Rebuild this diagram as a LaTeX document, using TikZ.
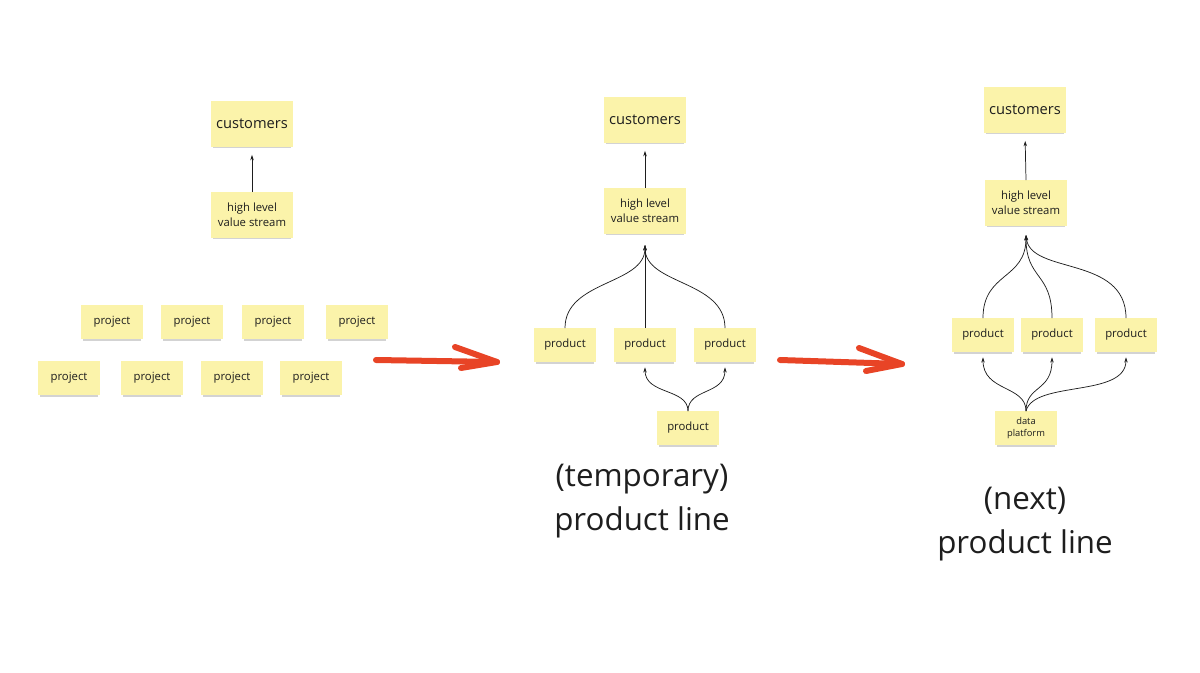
\documentclass[tikz,border=0pt]{standalone}
\usepackage{fontspec}
\setmainfont{Open Sans}
\usetikzlibrary{arrows.meta,shadows}
\definecolor{notefill}{RGB}{251,243,170}
\definecolor{penred}{RGB}{232,68,38}
\definecolor{inkgray}{RGB}{30,30,30}
\tikzset{
  note/.style={fill=notefill, inner sep=1pt, align=center,
    minimum width=46pt, minimum height=25pt,
    font=\fontsize{8.5}{11.5}\selectfont, text=inkgray,
    drop shadow={shadow xshift=0pt, shadow yshift=-2pt, shadow scale=0.96,
      opacity=0.35}},
  bignote/.style={note, minimum width=61.5pt, minimum height=34pt},
  link/.style={-{Stealth[length=4pt, width=2.6pt]}, line width=0.55pt, draw=inkgray},
  caption/.style={align=center, text=inkgray, font=\fontsize{23.5}{33}\selectfont},
  redarrow/.style={draw=penred, line width=4.5pt, line cap=round, line join=round}
}
\begin{document}
\begin{tikzpicture}[x=0.75pt, y=-0.75pt]
    \useasboundingbox (0,0) rectangle (1200,673);

    % Projects
    \node[bignote, font=\fontsize{11}{13}\selectfont] (cust1) at (252,124) {customers};
    \node[bignote] (vs1) at (252,215) {high level\\value stream};
    \draw[link, shorten >=6pt] (vs1.north) -- (cust1.south);
    \foreach \x [count=\i] in {112,192,273,357}
        \node[note] (projA\i) at (\x,322) {project};
    \foreach \x [count=\i] in {69,152,232,311}
        \node[note] (projB\i) at (\x,378) {project};

    % first red arrow
    \coordinate (r1s) at (376,360);
    \coordinate (r1e) at (497,362);
    \draw[redarrow] (r1s) -- (r1e);
    \draw[redarrow] (455,347) -- (r1e) -- (461,368);

    % Temporary product line
    \node[bignote, font=\fontsize{11}{13}\selectfont] (cust2) at (645,120) {customers};
    \node[bignote] (vs2) at (645,211) {high level\\value stream};
    \draw[link, shorten >=6pt] (vs2.north) -- (cust2.south);
    \coordinate (m2) at (645,245);
    \foreach \x [count=\i] in {565,645,725}
        \node[note] (prodA\i) at (\x,345) {product};
    \node[note] (prodA4) at (688,428) {product};
    \draw[link] (prodA1.north) .. controls (565,280) and (645,285) .. (m2);
    \draw[link] (prodA2.north) -- (m2);
    \draw[link] (prodA3.north) .. controls (725,280) and (645,285) .. (m2);
    \draw[link, shorten >=4pt] (prodA4.north) .. controls (688,388) and (645,395) .. (prodA2.south);
    \draw[link, shorten >=4pt] (prodA4.north) .. controls (688,388) and (725,395) .. (prodA3.south);
    \node[caption] (cap2) at (642,501) {(temporary)\\product line};

    % second red arrow
    \coordinate (r2s) at (780,360);
    \coordinate (r2e) at (902,364);
    \draw[redarrow] (r2s) -- (r2e);
    \draw[redarrow] (859,348) -- (r2e) -- (866,371);

    % Next product line
    \node[bignote, font=\fontsize{11}{13}\selectfont] (cust3) at (1025,110) {customers};
    \node[bignote] (vs3) at (1026,203) {high level\\value stream};
    \draw[link, shorten >=6pt] (vs3.north) -- (cust3.south);
    \coordinate (m3) at (1026,235);
    \foreach \x [count=\i] in {983,1052,1126}
        \node[note] (prodB\i) at (\x,335) {product};
    \node[note, font=\fontsize{7}{9.5}\selectfont] (data) at (1026,428) {data\\platform};
    \draw[link] (prodB1.north) .. controls (983,272) and (1026,280) .. (m3);
    \draw[link] (prodB2.north) .. controls (1052,272) and (1026,280) .. (m3);
    \draw[link] (prodB3.north) .. controls (1126,255) and (1030,275) .. (m3);
    \draw[link, shorten >=4pt] (data.north) .. controls (1026,385) and (983,392) .. (prodB1.south);
    \draw[link, shorten >=4pt] (data.north) .. controls (1026,385) and (1052,392) .. (prodB2.south);
    \draw[link, shorten >=4pt] (data.north) .. controls (1034,380) and (1126,398) .. (prodB3.south);
    \node[caption] (cap3) at (1025,524) {(next)\\product line};
\end{tikzpicture}
\end{document}
